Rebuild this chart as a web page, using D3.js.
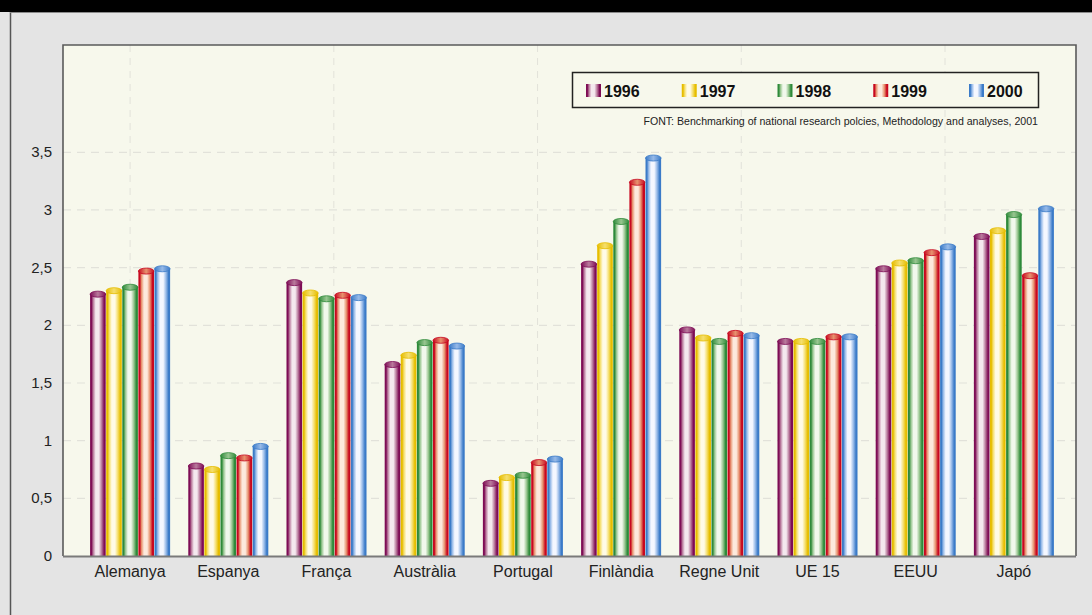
<!DOCTYPE html>
<html>
<head>
<meta charset="utf-8">
<script src="https://cdn.jsdelivr.net/npm/d3@7/dist/d3.min.js"></script>
<style>
  html, body { margin: 0; padding: 0; background: #e4e4e4; }
  svg { display: block; font-family: "Liberation Sans", Arial, sans-serif; }
</style>
</head>
<body>
<svg id="chart" width="1092" height="615"></svg>
<script>
// ---- data ----
const categories = ["Alemanya", "Espanya", "França", "Austràlia", "Portugal", "Finlàndia", "Regne Unit", "UE 15", "EEUU", "Japó"];
const years = ["1996", "1997", "1998", "1999", "2000"];
const values1996 = [2.27, 0.78, 2.37, 1.66, 0.63, 2.53, 1.96, 1.86, 2.49, 2.77];
const values1997 = [2.30, 0.75, 2.28, 1.74, 0.68, 2.69, 1.89, 1.86, 2.54, 2.82];
const values1998 = [2.33, 0.87, 2.23, 1.85, 0.70, 2.90, 1.86, 1.86, 2.56, 2.96];
const values1999 = [2.47, 0.85, 2.26, 1.87, 0.81, 3.24, 1.93, 1.90, 2.63, 2.43];
const values2000 = [2.49, 0.95, 2.24, 1.82, 0.84, 3.45, 1.91, 1.90, 2.68, 3.01];
const yTicks = [0, 0.5, 1, 1.5, 2, 2.5, 3, 3.5];
const yTickLabels = ["0", "0,5", "1", "1,5", "2", "2,5", "3", "3,5"];
const sourceText = "FONT: Benchmarking of national research polcies, Methodology and analyses, 2001";

const seriesValues = [values1996, values1997, values1998, values1999, values2000];
// colour palette per year: [edge, mid, light]
const palette = [
  ["#7e0c55", "#b97a9c", "#f4e8ee"],
  ["#e6bd00", "#f5df6e", "#fffbe6"],
  ["#2e8a3a", "#98c690", "#f1f8ec"],
  ["#c8081f", "#e7936f", "#fde9dc"],
  ["#3b7bc8", "#97bae8", "#f4f7ff"]
];

const svg = d3.select("#chart");
const W = 1092, H = 615;

// ---- frame ----
svg.append("rect").attr("x", 0).attr("y", 0).attr("width", W).attr("height", H).attr("fill", "#e4e4e4");
svg.append("rect").attr("x", 0).attr("y", 0).attr("width", W).attr("height", 12).attr("fill", "#000");
svg.append("line").attr("x1", 10.5).attr("x2", 10.5).attr("y1", 12).attr("y2", H)
  .attr("stroke", "#555").attr("stroke-width", 1.5);
svg.append("line").attr("x1", 10).attr("x2", W).attr("y1", 12.5).attr("y2", 12.5)
  .attr("stroke", "#8a8a8a").attr("stroke-width", 1);

const plot = { left: 63, right: 1076, top: 45, bottom: 556 };

const y = d3.scaleLinear().domain([0, 4.43]).range([plot.bottom, plot.top]);
const x0 = d3.scaleBand().domain(categories).range([81, 1063]).paddingInner(0.185).paddingOuter(0.0925);
const x1 = d3.scaleBand().domain(years).range([0, x0.bandwidth()]).paddingInner(0.03);

// plot background
svg.append("rect").attr("x", plot.left).attr("y", plot.top)
  .attr("width", plot.right - plot.left).attr("height", plot.bottom - plot.top)
  .attr("fill", "#f7f8ec");

// gradients
const defs = svg.append("defs");
palette.forEach((p, i) => {
  const g = defs.append("linearGradient").attr("id", "cyl" + i)
    .attr("x1", "0%").attr("x2", "100%").attr("y1", "0%").attr("y2", "0%");
  [[0, p[0]], [0.09, p[0]], [0.2, p[1]], [0.36, p[2]], [0.56, p[2]], [0.74, p[1]], [0.9, p[0]], [1, p[0]]]
    .forEach(s => g.append("stop").attr("offset", s[0]).attr("stop-color", s[1]));
  const c = defs.append("linearGradient").attr("id", "cap" + i)
    .attr("x1", "0%").attr("x2", "100%").attr("y1", "0%").attr("y2", "0%");
  [[0, p[0]], [0.5, p[1]], [1, p[0]]]
    .forEach(s => c.append("stop").attr("offset", s[0]).attr("stop-color", s[1]));
});

// vertical dashed grid (decorative, evenly spaced from first category)
const xGrid = d3.scaleLinear().domain([0, 4]).range([x0(categories[0]) + x0.bandwidth() / 2, 945]);
svg.append("g").selectAll("line").data(d3.range(0, 5)).join("line")
  .attr("x1", d => xGrid(d)).attr("x2", d => xGrid(d))
  .attr("y1", plot.top).attr("y2", plot.bottom)
  .attr("stroke", "#e2e2da").attr("stroke-width", 1).attr("stroke-dasharray", "7,6");

// horizontal dashed grid
svg.append("g").selectAll("line").data(yTicks.filter(d => d > 0)).join("line")
  .attr("x1", plot.left).attr("x2", plot.right)
  .attr("y1", d => y(d)).attr("y2", d => y(d))
  .attr("stroke", "#e2e2da").attr("stroke-width", 1.2).attr("stroke-dasharray", "8,6");

// y labels
svg.append("g").selectAll("text").data(yTicks).join("text")
  .attr("x", 52).attr("y", d => y(d) + 5)
  .attr("text-anchor", "end").attr("font-size", 15).attr("fill", "#222")
  .text((d, i) => yTickLabels[i]);

// bars
const groups = svg.append("g").selectAll("g").data(categories).join("g")
  .attr("transform", d => `translate(${x0(d)},0)`);

years.forEach((yr, si) => {
  const vals = seriesValues[si];
  const bw = x1.bandwidth();
  groups.append("rect")
    .attr("x", x1(yr)).attr("width", bw)
    .attr("y", (d, ci) => y(vals[ci]))
    .attr("height", (d, ci) => y(0) - y(vals[ci]))
    .attr("fill", `url(#cyl${si})`);
  groups.append("ellipse")
    .attr("cx", x1(yr) + bw / 2).attr("cy", (d, ci) => y(vals[ci]))
    .attr("rx", bw / 2).attr("ry", 3)
    .attr("fill", `url(#cap${si})`)
    .attr("stroke", palette[si][0]).attr("stroke-width", 0.8);
});

// plot border (left, top, right)
svg.append("path")
  .attr("d", `M${plot.left},${plot.bottom} V${plot.top} H${plot.right} V${plot.bottom}`)
  .attr("fill", "none").attr("stroke", "#5a5a5a").attr("stroke-width", 1.6);
// x axis line
svg.append("line").attr("x1", plot.left).attr("x2", plot.right)
  .attr("y1", plot.bottom + 0.5).attr("y2", plot.bottom + 0.5)
  .attr("stroke", "#7a7a7a").attr("stroke-width", 2);

// x labels
svg.append("g").selectAll("text").data(categories).join("text")
  .attr("x", d => x0(d) + x0.bandwidth() / 2).attr("y", 577)
  .attr("text-anchor", "middle").attr("font-size", 16).attr("fill", "#222")
  .text(d => d);

// legend
const legend = svg.append("g");
legend.append("rect").attr("x", 572.5).attr("y", 72.5).attr("width", 466).attr("height", 35)
  .attr("fill", "#f7f8ec").attr("stroke", "#222").attr("stroke-width", 1.5);
const lx = d3.scaleLinear().domain([0, 4]).range([586, 969]);
const li = legend.selectAll("g").data(years).join("g")
  .attr("transform", (d, i) => `translate(${lx(i)},84)`);
li.append("rect").attr("width", 15).attr("height", 13)
  .attr("fill", (d, i) => `url(#cyl${i})`);
li.append("text").attr("x", 18).attr("y", 12.5)
  .attr("font-size", 16).attr("font-weight", "bold").attr("fill", "#111")
  .text(d => d);

// source
svg.append("text").attr("x", 1038).attr("y", 125)
  .attr("text-anchor", "end").attr("font-size", 10.6).attr("fill", "#222")
  .text(sourceText);
</script>
</body>
</html>
